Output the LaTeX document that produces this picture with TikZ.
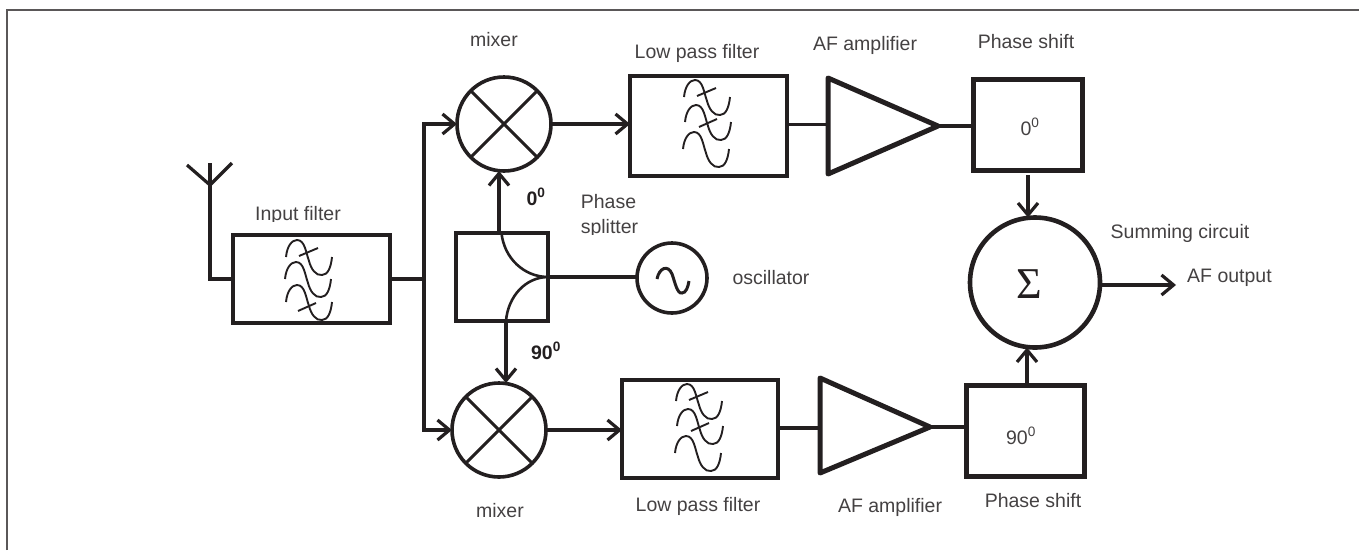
\documentclass[tikz,border=0pt]{standalone}
\usepackage{fontspec}
\setmainfont{Liberation Sans}
\newfontfamily\sumfont{Liberation Serif}
\usetikzlibrary{arrows.meta}

\tikzset{
    wire/.style = {line width=3.2pt, draw=ink},
    arrow/.style = {wire, -{Straight Barb[length=12pt,width=20pt,line width=3.2pt]}},
    main/.style = {draw=ink, line width=3.6pt, minimum width=#1, inner sep=0pt, outer sep=0pt},
    roundblock/.style = {main=#1, circle},
    label/.style = {text=ink!85, font=\fontsize{19.5}{21}\selectfont, inner sep=0pt},
    boldlabel/.style = {text=ink, font=\fontsize{19.5}{21}\selectfont\bfseries, inner sep=0pt},
    pics/filtersym/.style n args = {3}{code = {
        \foreach \cx/\cy in {0/0, #1} {
            \draw[line width=1.9pt, draw=ink, shift={(\cx,\cy)}] (0,0)
                .. controls (1,-11) and (6,-17) .. (11,-17)
                .. controls (19,-17) and (20,-4) .. (23,4)
                .. controls (25,12) and (30,19) .. (36,18)
                .. controls (42,18) and (45,10) .. (46,0);
        }
        \draw[line width=1.9pt, draw=ink] (13,-1) -- (32,-9);
        \draw[line width=1.9pt, draw=ink, shift={(#2,#3)}] (0,0) -- (18,-8);
    }}
}
\definecolor{ink}{HTML}{231F20}

\begin{document}
\begin{tikzpicture}[x=1pt, y=-1pt]
    \useasboundingbox (0,0) rectangle (1359,550);

    % frame
    \draw[line width=2pt, draw=ink!75] (6.5,550) -- (6.5,10) -- (1359,10);

    % blocks
    \node[main=157pt, minimum height=88pt] (input) at (311.5,279) {};
    \node[main=92pt, minimum height=88pt] (splitter) at (502,277) {};
    \node[roundblock=94pt] (mixA) at (504,124) {};
    \node[roundblock=94pt] (mixB) at (499,430) {};
    \node[main=157pt, minimum height=100pt] (lpfA) at (708.5,126) {};
    \node[main=156pt, minimum height=98pt] (lpfB) at (700,429) {};
    \node[main=109pt, minimum height=91pt, line width=5pt] (shiftA) at (1027.5,124.5) {};
    \node[main=118pt, minimum height=91pt, line width=5pt] (shiftB) at (1025,430.5) {};
    \node[roundblock=70pt] (osc) at (672,278) {};
    \node[roundblock=130pt, line width=4.6pt] (sum) at (1035,282.5) {};

    % crossed mixers and the oscillator wave
    \draw[line width=3pt, draw=ink] (mixA.45) -- (mixA.225) (mixA.135) -- (mixA.315);
    \draw[line width=3pt, draw=ink] (mixB.45) -- (mixB.225) (mixB.135) -- (mixB.315);
    \draw[line width=3pt, draw=ink] (657,279) .. controls (659,268) and (668,264) .. (672,274)
        .. controls (675,282) and (677,294) .. (682,293) .. controls (686,293) and (688,287) .. (689,281);

    % filter curves
    \pic at (286,257) {filtersym={-1/22, 0/45}{12}{54}};
    \pic at (684,97) {filtersym={1/25, -1/52}{15}{30}};
    \pic at (676,401) {filtersym={1/25, -1/52}{15}{30}};

    % amplifiers
    \coordinate (ampAin) at (828,124.5);
    \coordinate (ampAout) at (938,126);
    \coordinate (ampBin) at (820,428);
    \coordinate (ampBout) at (930,427);
    \draw[line width=5pt, draw=ink, line join=round] (828,78) -- (ampAout) -- (828,174) -- cycle;
    \draw[line width=5pt, draw=ink, line join=round] (820,378) -- (ampBout) -- (820,473) -- cycle;

    % antenna
    \coordinate (aerial) at (210,185);
    \coordinate (aerialtop) at (210,163);
    \coordinate (aerialL) at (187,165);
    \coordinate (aerialR) at (232,163);
    \draw[wire] (aerialL) -- (aerial) -- (aerialR);
    \draw[wire] (aerialtop) -- (aerial |- input.west) -- (input.west);

    % phase splitter curves
    \coordinate (split) at (splitter.east);
    \coordinate (splitup) at (499,233);
    \coordinate (splitdown) at (506,321);
    \draw[line width=2.6pt, draw=ink] (501.5,233) .. controls (504,258) and (524,277) .. (split);
    \draw[line width=2.6pt, draw=ink] (splitdown) .. controls (508,296) and (526,277) .. (split);

    % signal paths
    \coordinate (bus) at (424,279);
    \draw[wire] (input.east) -- (input.east -| bus);
    \draw[arrow] (bus) -- (bus |- mixA) -- (mixA.west);
    \draw[arrow] (bus) -- (bus |- mixB) -- (mixB.west);
    \draw[arrow] (splitup) -- (splitup |- mixA.south);
    \draw[arrow] (splitdown) -- (splitdown |- mixB.north);
    \draw[wire] (split) -- (split -| osc.west);
    \draw[arrow] (mixA.east) -- (mixA.east -| lpfA.west);
    \draw[arrow] (mixB.east) -- (mixB.east -| lpfB.west);
    \draw[wire] (lpfA.east |- ampAin) -- (ampAin);
    \draw[wire] (lpfB.east |- ampBin) -- (ampBin);
    \draw[wire] (ampAout) -- (ampAout -| shiftA.west);
    \draw[wire] (ampBout) -- (ampBout -| shiftB.west);
    \coordinate (sumtop) at (1028,175);
    \draw[arrow] (sumtop) -- (sumtop |- sum.north);
    \coordinate (sumbottom) at (1027,384);
    \draw[arrow] (sumbottom) -- (sumbottom |- sum.south);
    \coordinate (outlet) at (1176,285);
    \draw[arrow] (sum.east |- outlet) -- (outlet);

    % labels
    \node[label] (mixAlabel) at (494,40) {mixer};
    \node[label] (mixBlabel) at (500,511) {mixer};
    \node[label] (lpfAlabel) at (697,53) {Low pass filter};
    \node[label] (lpfBlabel) at (698,506) {Low pass filter};
    \node[label] (ampAlabel) at (865,45) {AF amplifier};
    \node[label] (ampBlabel) at (890,507) {AF amplifier};
    \node[label] (shiftAlabel) at (1026,42) {Phase shift};
    \node[label] (shiftBlabel) at (1033,501) {Phase shift};
    \node[label] (osclabel) at (771,278) {oscillator};
    \node[label] (sumlabel) at (1180,233) {Summing circuit};
    \node[label, anchor=west] (outlabel) at (1187,278) {AF output};
    \node[label] (shiftAtext) at (1030,127) {0$^{\mathrm{0}}$};
    \node[label] (shiftBtext) at (1021,436) {90$^{\mathrm{0}}$};
    \node[text=ink, font=\fontsize{44}{44}\sumfont, inner sep=0pt] (sumsign) at (1029,284) {\char"03A3};
    \node[boldlabel] (zerolabel) at (536,197) {0$^{\mathbf{0}}$};
    \node[boldlabel] (ninetylabel) at (546,351) {90$^{\mathbf{0}}$};
    \node[label] (phaselabel) at (608.5,202) {Phase};
    \begin{scope}
        \clip (560,215) rectangle (660,234);
        \node[label] (splitlabel) at (609.5,228.5) {splitter};
    \end{scope}
    \begin{scope}
        \clip (240,200) rectangle (380,221.5);
        \node[label] (inputlabel) at (298,215) {Input filter};
    \end{scope}
\end{tikzpicture}
\end{document}
